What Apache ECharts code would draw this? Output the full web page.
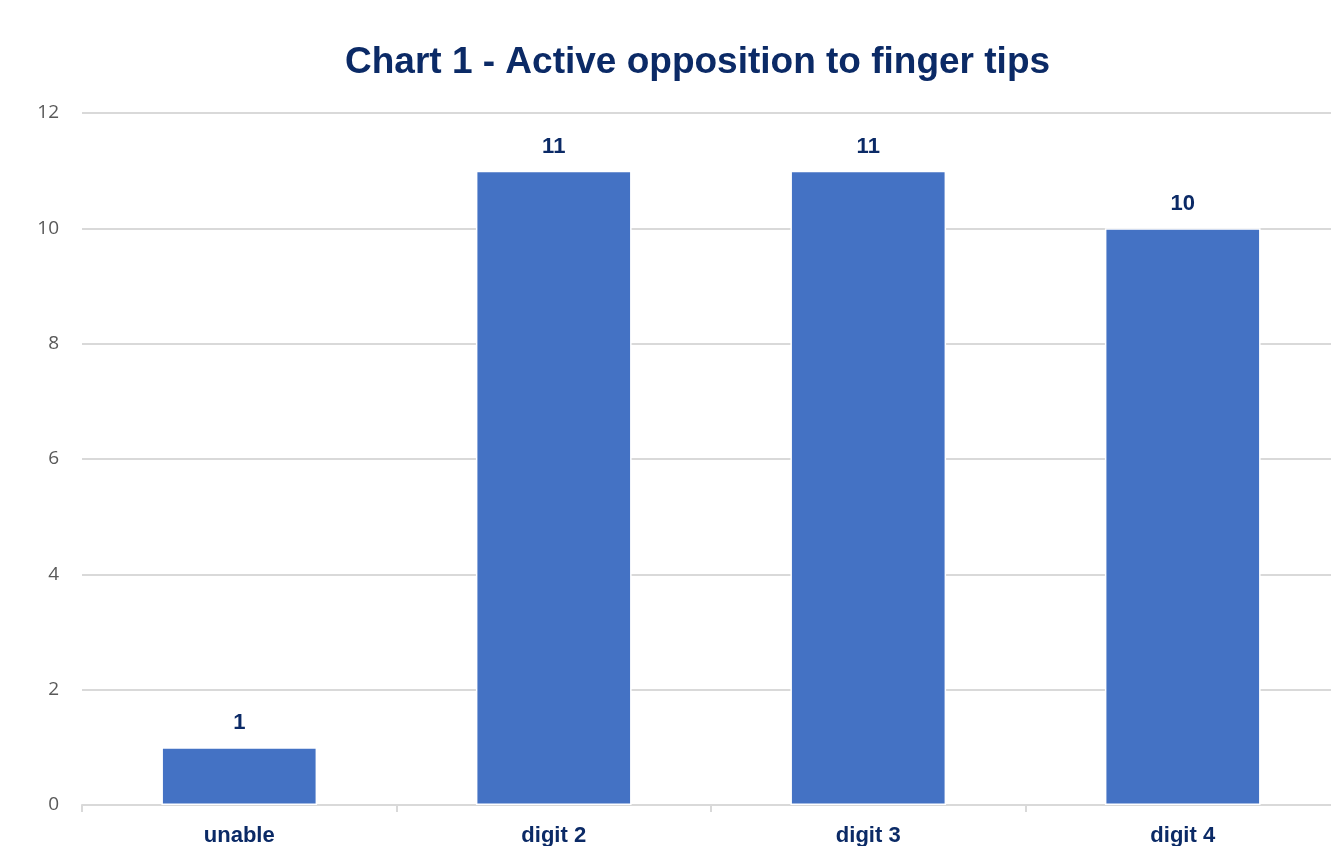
<!DOCTYPE html>
<html>
<head>
<meta charset="utf-8">
<style>
  html, body { margin: 0; padding: 0; background: #ffffff; overflow: hidden; }
  #chart { width: 1340px; height: 846px; }
</style>
<script src="https://cdn.jsdelivr.net/npm/echarts@6/dist/echarts.min.js"></script>
</head>
<body>
<div id="chart"></div>
<script>
// Counts per level of active opposition
const categories = ['unable', 'digit 2', 'digit 3', 'digit 4'];
const counts = [1, 11, 11, 10];
const yTicks = { min: 0, max: 12, interval: 2 };

const navy = '#0B2A66';
const chart = echarts.init(document.getElementById('chart'), null, { renderer: 'canvas' });

chart.setOption({
  backgroundColor: '#ffffff',
  animation: false,
  title: {
    text: 'Chart 1 - Active opposition to finger tips',
    left: 340,
    top: 39,
    textStyle: {
      fontFamily: 'Liberation Sans, Arial, sans-serif',
      fontWeight: 'bold',
      fontSize: 37,
      color: navy
    }
  },
  grid: {
    left: 82, right: 0, top: 113, bottom: 41,
    containLabel: false,
    outerBoundsMode: 'none'
  },
  xAxis: {
    type: 'category',
    data: categories,
    axisLine: { show: true, lineStyle: { color: '#d9d9d9', width: 2 } },
    axisTick: { show: true, length: 7, lineStyle: { color: '#d9d9d9', width: 2 } },
    axisLabel: {
      margin: 20,
      fontFamily: 'Liberation Sans, Arial, sans-serif',
      fontWeight: 'bold',
      fontSize: 22,
      color: navy
    }
  },
  yAxis: {
    type: 'value',
    min: yTicks.min,
    max: yTicks.max,
    interval: yTicks.interval,
    axisLine: { show: false },
    axisTick: { show: false },
    splitLine: { lineStyle: { color: '#d9d9d9', width: 2 } },
    axisLabel: {
      margin: 23,
      fontFamily: 'Open Sans, Liberation Sans, sans-serif',
      fontSize: 19,
      color: '#595959'
    }
  },
  series: [{
    type: 'bar',
    data: counts,
    barWidth: '49.5%',
    itemStyle: { color: '#4472C4', borderColor: '#ffffff', borderWidth: 1.5 },
    label: {
      show: true,
      position: 'top',
      distance: 13,
      fontFamily: 'Liberation Sans, Arial, sans-serif',
      fontWeight: 'bold',
      fontSize: 22,
      color: navy
    }
  }]
});
</script>
</body>
</html>
